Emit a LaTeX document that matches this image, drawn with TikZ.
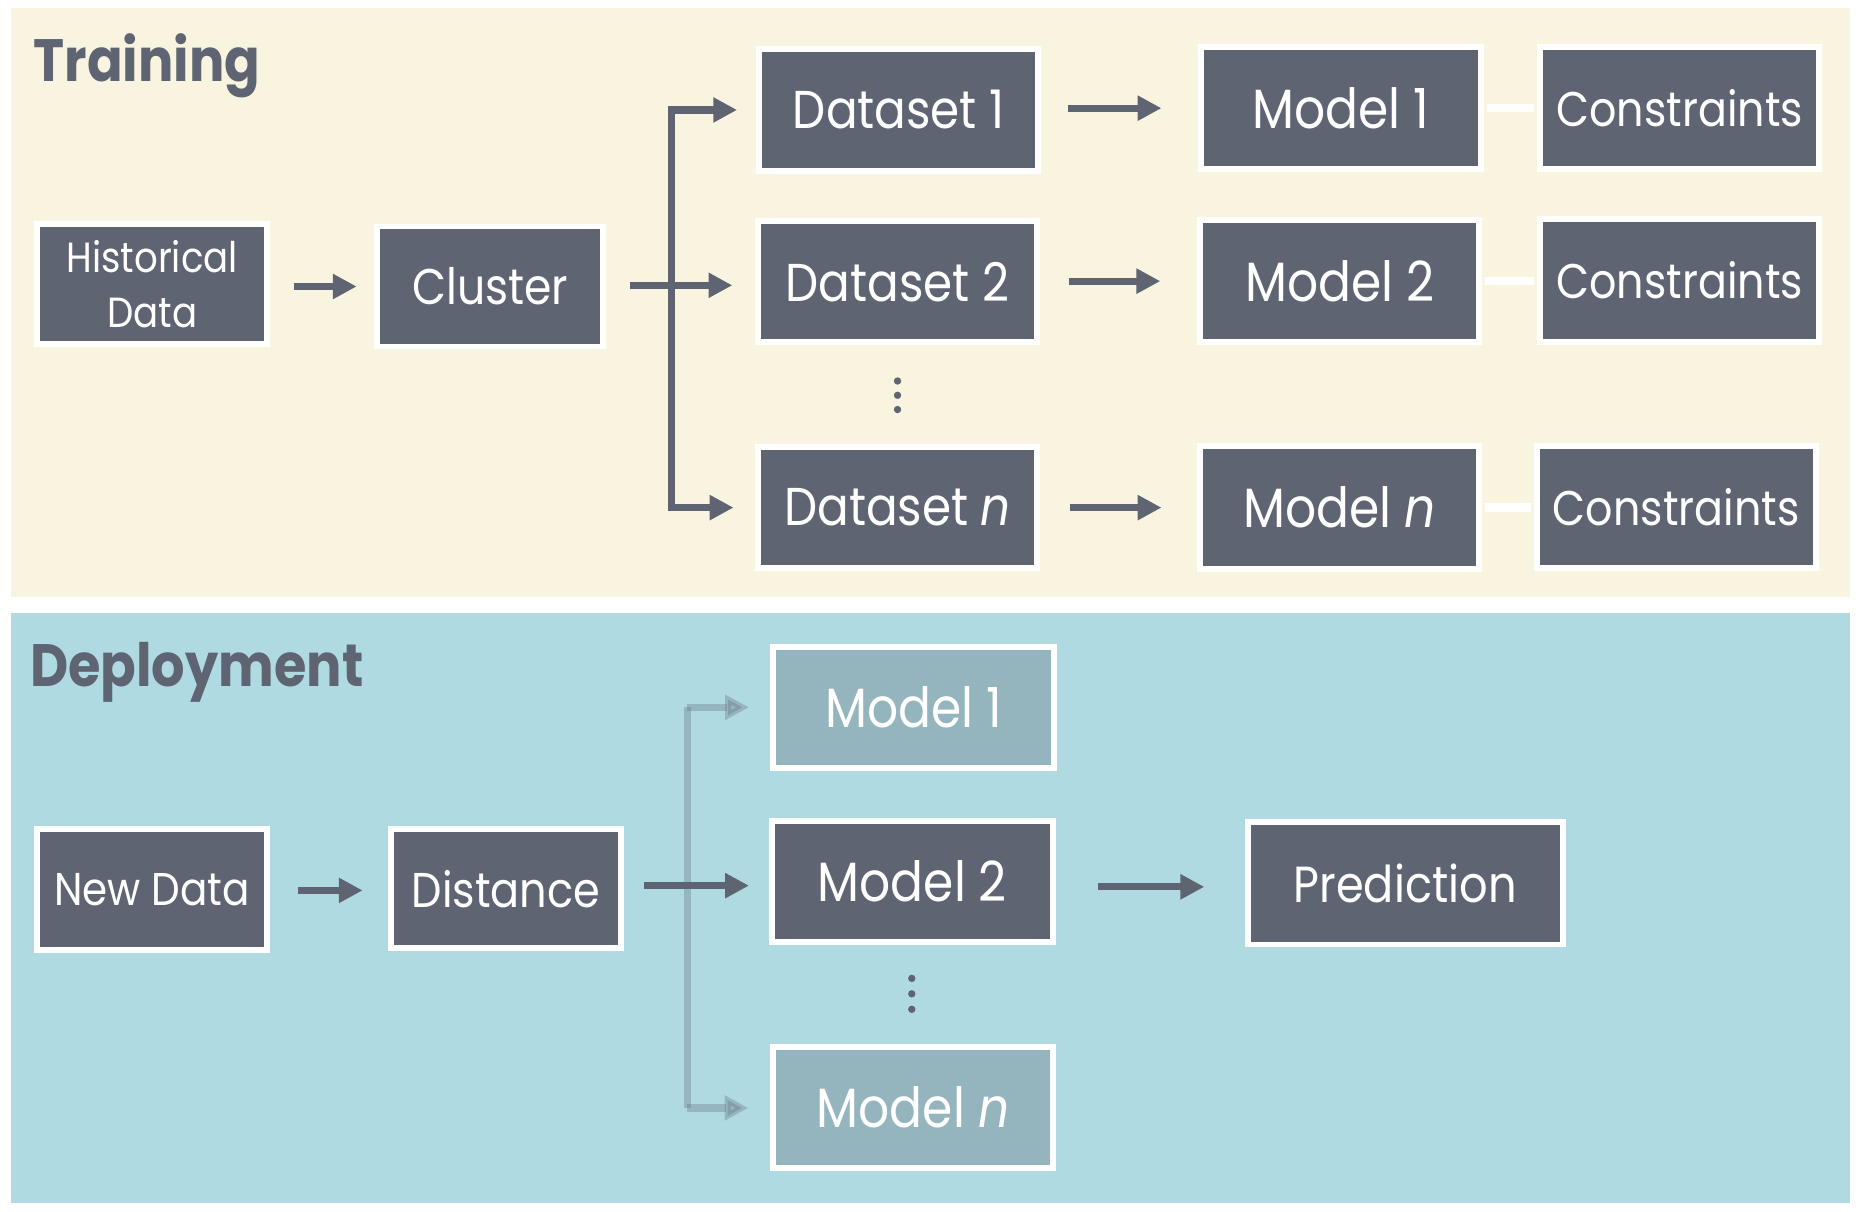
\documentclass[tikz,border=0pt]{standalone}
\usepackage{fontspec}
\setmainfont{Poppins}[FakeStretch=0.88]
\usetikzlibrary{arrows.meta}
\definecolor{cream}{HTML}{F9F4E0}
\definecolor{paleblue}{HTML}{AFDAE1}
\definecolor{slate}{HTML}{5E6472}
\definecolor{fadebox}{HTML}{95B5BE}
\begin{document}
\begin{tikzpicture}[x=0.02cm,y=-0.02cm,
  box/.style={draw=white,line width=2.85pt,fill=slate,text=white,inner sep=0pt,
    align=center,font=\fontsize{24}{28}\selectfont},
  dsbox/.style={box,minimum width=4.70cm,minimum height=2.04cm,font=\fontsize{25.5}{30}\selectfont},
  mbox/.style={box,minimum width=4.70cm,minimum height=2.06cm,font=\fontsize{26.5}{30}\selectfont},
  cbox/.style={box,minimum width=4.70cm,minimum height=2.06cm,font=\fontsize{23.3}{28}\selectfont},
  dmbox/.style={box,minimum width=4.72cm,minimum height=2.04cm,font=\fontsize{26.5}{30}\selectfont},
  fadedbox/.style={dmbox,fill=fadebox},
  arr/.style={draw=slate,line width=3.4pt,-{Triangle[length=11.4pt,width=11.4pt]}},
  farr/.style={arr,opacity=0.3},
  fline/.style={draw=slate,line width=3.4pt,opacity=0.3},
  link/.style={draw=white,line width=4pt},
  title/.style={anchor=base west,text=slate,inner sep=0pt,font=\fontsize{28.6}{34}\selectfont\bfseries},
  dot/.style={fill=slate}
]
\useasboundingbox (0,0) rectangle (1568,1019.5);
\fill[white] (0,0) rectangle (1568,1019.5);
\fill[cream] (9,7) rectangle (1556,502);
\fill[paleblue] (9,515.5) rectangle (1556,1012);

% ---------- Training ----------
\node[title] (ttrain) at (28,68.3) {Training};
\node[box,minimum width=3.86cm,minimum height=2.02cm,font=\fontsize{20.2}{26.8}\selectfont] (hist) at (128,239) {Historical\\Data};
\node[box,minimum width=3.80cm,minimum height=2.02cm,font=\fontsize{24}{30}\selectfont] (cluster) at (412.5,241) {Cluster};
\node[dsbox] (ds1) at (756,92.5) {Dataset 1};
\node[dsbox] (ds2) at (755,237) {Dataset 2};
\node[dsbox] (dsn) at (755,427) {Dataset \textit{n}};
\node[mbox] (m1) at (1128,91) {Model 1};
\node[mbox] (m2) at (1127,236.5) {Model 2};
\node[mbox] (mn) at (1127,427) {Model \textit{n}};
\node[cbox] (c1) at (1413,91) {Constraints};
\node[cbox] (c2) at (1413,236) {Constraints};
\node[cbox] (cn) at (1410,426.5) {Constraints};

\fill[dot] (755,320.5) circle[radius=0.062cm];
\fill[dot] (755,332.5) circle[radius=0.062cm];
\fill[dot] (755,344.5) circle[radius=0.062cm];

\coordinate (split) at (565,240);
\draw[arr,shorten <=0.4cm,shorten >=0.3cm] (hist.east |- 0,241) -- (cluster.west |- 0,241);
\draw[arr,shorten >=0.32cm] (split) |- (ds1.west);
\draw[arr,shorten >=0.36cm] (split) |- (dsn.west);
\draw[arr,shorten <=0.4cm,shorten >=0.38cm] (cluster.east |- split) -- (ds2.west |- split);
\draw[arr,shorten <=0.44cm,shorten >=0.62cm] (ds1.east |- m1.west) -- (m1.west);
\draw[arr,shorten <=0.48cm,shorten >=0.62cm] (ds2.east |- m2.west) -- (m2.west);
\draw[arr,shorten <=0.5cm,shorten >=0.6cm] (dsn.east |- mn.west) -- (mn.west);
\draw[link,shorten <=1.4pt,shorten >=1.4pt] (m1.east) -- (c1.west |- m1.east);
\draw[link,shorten <=1.4pt,shorten >=1.4pt] (m2.east) -- (c2.west |- m2.east);
\draw[link,shorten <=1.4pt,shorten >=1.4pt] (mn.east) -- (cn.west |- mn.east);

% ---------- Deployment ----------
\node[title] (tdeploy) at (25,577.3) {Deployment};
\node[box,minimum width=3.86cm,minimum height=2.04cm,font=\fontsize{22}{26}\selectfont] (nd) at (128,748.5) {New Data};
\node[box,minimum width=3.88cm,minimum height=2.00cm,font=\fontsize{23.4}{28}\selectfont] (dist) at (425.5,747.5) {Distance};
\node[fadedbox] (dm1) at (768.5,595) {Model 1};
\node[dmbox] (dm2) at (767.5,741.5) {Model 2};
\node[fadedbox] (dmn) at (768,931.5) {Model \textit{n}};
\node[box,minimum width=5.30cm,minimum height=2.06cm,font=\fontsize{24.3}{28}\selectfont] (pred) at (1182,743) {Prediction};

\fill[dot] (767,823) circle[radius=0.062cm];
\fill[dot] (767,836) circle[radius=0.062cm];
\fill[dot] (767,849) circle[radius=0.062cm];

\coordinate (dtop) at (578,595);
\coordinate (dbot) at (578,932);
\draw[fline] (dtop) -- (dbot);
\draw[farr,shorten >=0.36cm] (dtop) -- (dm1.west |- dtop);
\draw[farr,shorten >=0.36cm] (dbot) -- (dmn.west |- dbot);
\draw[arr,shorten <=0.48cm,shorten >=0.42cm] (nd.east |- 0,749) -- (dist.west |- 0,749);
\draw[arr,shorten <=0.34cm,shorten >=0.34cm] (dist.east |- 0,745) -- (dm2.west |- 0,745);
\draw[arr,shorten <=0.72cm,shorten >=0.68cm] (dm2.east |- 0,746) -- (pred.west |- 0,746);
\end{tikzpicture}
\end{document}
